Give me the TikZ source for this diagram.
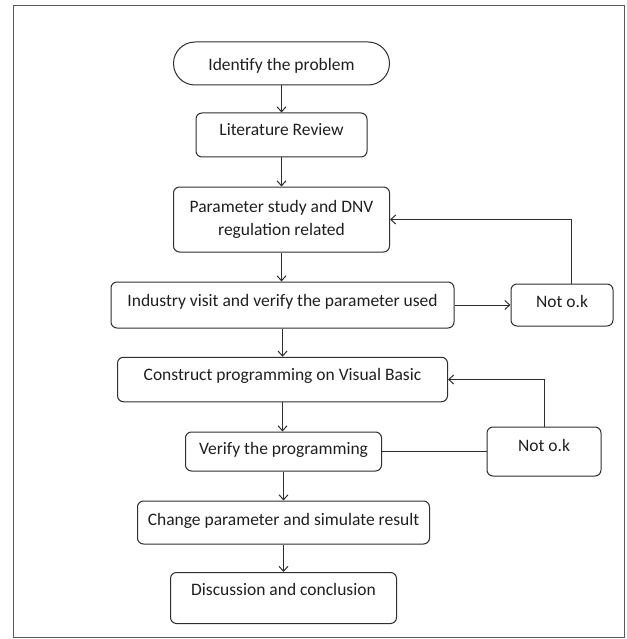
\documentclass[tikz,border=0pt]{standalone}
\usepackage{fontspec}
\setmainfont{Carlito}
\usetikzlibrary{arrows.meta}
\begin{document}
\begin{tikzpicture}[x=1pt,y=-1pt,
  font=\fontsize{17.5}{22.3}\selectfont,
  line width=1pt,
  ln/.style={draw=black!82},
  box/.style={ln, rounded corners=6pt, inner sep=0pt, text=black!88, text height=12pt},
  arr/.style={ln, -{Straight Barb[length=5pt,width=9pt,line width=1pt]}},
]
\useasboundingbox (0,0) rectangle (626,639);
\draw[draw=black!65, line width=1.3pt] (13.5,5.5) rectangle (624.5,637.5);

\node[box, rounded corners=21.5pt, minimum width=216pt, minimum height=43pt, text height=15pt, text depth=0.8pt] (id) at (281.5,63.5) {Identify the problem};
\node[box, minimum width=171pt, minimum height=44pt, text depth=10.8pt] (lit) at (281.5,135) {Literature Review};
\node[box, minimum width=216pt, minimum height=65pt, align=center, text height=, text depth=] (par) at (281.5,219.5) {Parameter study and DNV\\regulation related};
\node[box, minimum width=343pt, minimum height=46pt, text depth=9.4pt] (ind) at (282.5,305) {Industry visit and verify the parameter used};
\node[box, minimum width=102pt, minimum height=42pt, text depth=7.4pt] (nok1) at (562,305) {Not o.k};
\node[box, minimum width=330pt, minimum height=44.5pt, text depth=9.8pt] (con) at (282.5,379.5) {Construct programming on Visual Basic};
\node[box, minimum width=196pt, minimum height=39pt, text depth=5.8pt] (ver) at (283.5,451.5) {Verify the programming};
\node[box, minimum width=114pt, minimum height=49pt, text depth=11.8pt] (nok2) at (544,451.5) {Not o.k};
\node[box, minimum width=292pt, minimum height=43pt, text depth=5.8pt] (chg) at (283.5,522.5) {Change parameter and simulate result};
\node[box, minimum width=226pt, minimum height=51pt, text depth=16.8pt] (dis) at (283.5,598) {Discussion and conclusion};

\draw[arr] (id.south) -- (id.south |- lit.north);
\draw[arr] (lit.south) -- (lit.south |- par.north);
\draw[arr] (par.south) -- (par.south |- ind.north);
\draw[arr] (ind.south) -- (ind.south |- con.north);
\draw[arr] (con.south) -- (con.south |- ver.north);
\draw[arr] (ver.south) -- (ver.south |- chg.north);
\draw[arr] (chg.south) -- (chg.south |- dis.north);
\draw[arr] (ind.east) -- (nok1.west);
\draw[arr] ([xshift=9pt]nok1.north) |- (par.east);
\draw[ln] (ver.east) -- (nok2.west);
\draw[arr] (nok2.north) |- (con.east);
\end{tikzpicture}
\end{document}
